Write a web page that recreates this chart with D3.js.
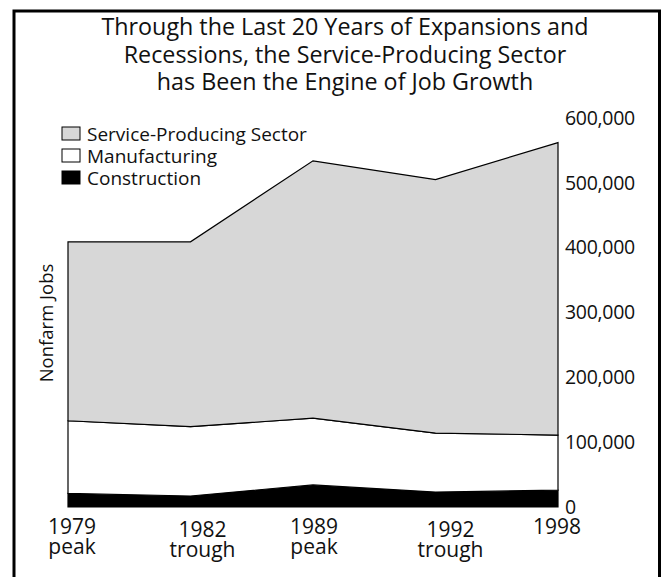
<!DOCTYPE html>
<html>
<head>
<meta charset="utf-8">
<script src="https://cdn.jsdelivr.net/npm/d3@7"></script>
<style>
  html, body { margin: 0; padding: 0; background: #fff; }
  svg { display: block; font-family: "Open Sans", "Noto Sans", sans-serif; }
</style>
</head>
<body>
<svg id="chart" width="663" height="577"></svg>
<script>
// ---- data ----
const years = ["1979", "1982", "1989", "1992", "1998"];
const phases = ["peak", "trough", "peak", "trough", ""];
const construction = [21000, 17000, 34000, 23000, 26000];
const manufacturing = [112000, 107000, 103000, 91000, 85000];
const service = [276000, 285000, 397000, 391000, 451000];
const yTicks = [0, 100000, 200000, 300000, 400000, 500000, 600000];
const seriesNames = ["Construction", "Manufacturing", "Service-Producing Sector"];
const titleLines = [
  "Through the Last 20 Years of Expansions and",
  "Recessions, the Service-Producing Sector",
  "has Been the Engine of Job Growth"
];

// ---- layout ----
const svg = d3.select("#chart");
const colors = { "Construction": "#000000", "Manufacturing": "#ffffff", "Service-Producing Sector": "#d7d7d7" };

// frame
svg.append("rect")
  .attr("x", 14).attr("y", 11)
  .attr("width", 645.5).attr("height", 620)
  .attr("fill", "none").attr("stroke", "#000").attr("stroke-width", 3);

// title
svg.append("g").selectAll("text").data(titleLines).join("text")
  .attr("x", 345)
  .attr("y", (d, i) => 35 + i * 27.5)
  .attr("text-anchor", "middle")
  .attr("font-size", 23.3)
  .attr("fill", "#111")
  .text(d => d);

const x = d3.scalePoint().domain(years).range([68, 558]);
const y = d3.scaleLinear().domain([0, 600000]).range([507, 118]);

const table = years.map((yr, i) => ({
  year: yr,
  "Construction": construction[i],
  "Manufacturing": manufacturing[i],
  "Service-Producing Sector": service[i]
}));
const stacked = d3.stack().keys(seriesNames)(table);

const area = d3.area()
  .x(d => x(d.data.year))
  .y0(d => y(d[0]))
  .y1(d => y(d[1]));

svg.append("g").selectAll("path").data(stacked).join("path")
  .attr("d", area)
  .attr("fill", d => colors[d.key])
  .attr("stroke", "#000")
  .attr("stroke-width", 1.2)
  .attr("stroke-linejoin", "miter");

// right axis
const axis = svg.append("g")
  .attr("transform", `translate(${x("1998")},0)`)
  .call(d3.axisRight(y).tickValues(yTicks).tickSize(0).tickPadding(7).tickFormat(d3.format(",")));
axis.select(".domain").remove();
axis.selectAll("text")
  .attr("font-size", 19.5)
  .attr("font-family", "\"Open Sans\", \"Noto Sans\", sans-serif")
  .attr("fill", "#111")
  .attr("letter-spacing", -0.3);

// x labels (year + cycle phase as one two-line label)
const tickDx = [4, 12, 1, 15, -1];
const tickDy = [0, 3, 0, 3, 0];
const xl = svg.append("g").selectAll("text").data(years).join("text")
  .attr("transform", (d, i) => `translate(${x(d) + tickDx[i]},${534 + tickDy[i]})`)
  .attr("text-anchor", "middle")
  .attr("font-size", 21)
  .attr("fill", "#111");
xl.append("tspan").attr("x", 0).attr("y", 0).text(d => d);
xl.append("tspan").attr("x", 0).attr("y", 20).text((d, i) => phases[i]);

// y axis title
svg.append("text")
  .attr("transform", "translate(53,323) rotate(-90)")
  .attr("text-anchor", "middle")
  .attr("font-size", 18.5)
  .attr("fill", "#111")
  .text("Nonfarm Jobs");

// legend (top to bottom: service, manufacturing, construction)
const legendOrder = seriesNames.slice().reverse();
const lg = svg.append("g").selectAll("g").data(legendOrder).join("g")
  .attr("transform", (d, i) => `translate(62,${127 + i * 22})`);
lg.append("rect")
  .attr("width", 18).attr("height", 13)
  .attr("fill", d => colors[d])
  .attr("stroke", "#000").attr("stroke-width", 1);
lg.append("text")
  .attr("x", 25).attr("y", 13.5)
  .attr("font-size", 19)
  .attr("fill", "#111")
  .text(d => d);
</script>
</body>
</html>
